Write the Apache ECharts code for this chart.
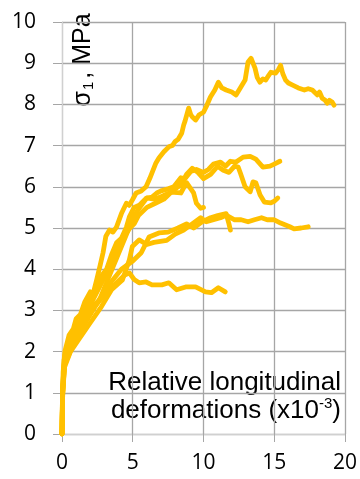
<!DOCTYPE html>
<html>
<head>
<meta charset="utf-8">
<style>
  html, body { margin: 0; padding: 0; background: #fff; }
  #chart { width: 360px; height: 479px; }
</style>
<script src="https://cdn.jsdelivr.net/npm/echarts@6/dist/echarts.min.js"></script>
</head>
<body>
<div id="chart"></div>
<script>
// Stress-strain curves: relative longitudinal deformation (x10^-3) vs. sigma_1 (MPa)
const xTicks = [0, 5, 10, 15, 20];
const yTicks = [0, 1, 2, 3, 4, 5, 6, 7, 8, 9, 10];

const specimenA = [[0,0],[0.03,0.8],[0.08,1.5],[0.2,2.0],[0.5,2.4],[0.8,2.55],[1.0,2.8],[1.3,2.9],[1.6,3.2],[2.0,3.45],[2.2,3.4],[2.45,3.74],[2.7,4.1],[2.9,4.4],[3.1,4.8],[3.36,4.95],[3.6,4.9],[3.85,5.02],[4.2,5.35],[4.55,5.6],[4.75,5.55],[4.97,5.68],[5.24,5.85],[5.6,5.9],[5.94,6.0],[6.2,6.2],[6.36,6.34],[6.64,6.58],[6.85,6.7],[7.2,6.85],[7.55,6.97],[7.8,7.0],[8.0,7.1],[8.2,7.15],[8.46,7.3],[8.6,7.5],[8.7,7.6],[8.95,7.91],[9.1,7.75],[9.2,7.7],[9.44,7.62],[9.7,7.75],[10.0,7.81],[10.2,7.95],[10.49,8.18],[10.8,8.35],[11.05,8.54],[11.3,8.4],[11.6,8.35],[12.0,8.3],[12.3,8.23],[12.6,8.4],[12.94,8.59],[13.15,9.03],[13.36,9.12],[13.5,9.0],[13.64,8.88],[13.8,8.65],[13.99,8.54],[14.2,8.62],[14.4,8.59],[14.6,8.7],[14.76,8.78],[15.1,8.76],[15.3,8.85],[15.45,8.95],[15.6,8.75],[15.8,8.59],[16.0,8.52],[16.3,8.47],[16.7,8.4],[17.13,8.35],[17.4,8.38],[17.69,8.35],[18.04,8.23],[18.2,8.3],[18.39,8.15],[18.6,8.1],[18.74,8.03],[18.9,8.1],[19.09,8.06],[19.23,7.98]];

const specimenB = [[0,0],[0.04,1.0],[0.15,1.8],[0.5,2.3],[1.0,2.6],[1.3,2.75],[1.6,3.0],[2.2,3.4],[2.7,3.8],[3.15,4.0],[3.5,4.35],[3.85,4.64],[4.2,4.75],[4.55,5.02],[4.76,5.27],[5.1,5.5],[5.45,5.55],[5.94,5.72],[6.36,5.75],[6.7,5.85],[7.0,5.9],[7.5,5.95],[7.9,6.0],[8.4,6.22],[8.7,6.2],[9.1,6.37],[9.5,6.42],[10.0,6.35],[10.35,6.42],[10.7,6.55],[11.2,6.6],[11.55,6.5],[11.9,6.62],[12.3,6.6],[12.8,6.72],[13.3,6.74],[13.7,6.67],[14.2,6.48],[14.7,6.5],[15.0,6.55],[15.4,6.62]];

const specimenC = [[0,0],[0.05,1.1],[0.2,1.85],[0.6,2.2],[1.2,2.6],[1.8,3.0],[2.4,3.4],[3.0,3.8],[3.3,3.95],[3.6,4.3],[4.2,4.7],[4.8,5.0],[5.1,5.1],[5.4,5.3],[6.0,5.5],[6.6,5.6],[7.2,5.7],[7.8,5.9],[8.4,6.05],[8.8,6.3],[9.2,6.45],[9.6,6.35],[10.0,6.2],[10.5,6.3],[11.0,6.5],[11.4,6.4],[11.8,6.35],[12.2,6.5],[12.45,6.48],[12.6,6.34],[12.94,6.0],[13.3,5.88],[13.5,6.12],[13.7,6.1],[14.0,5.8],[14.3,5.63],[14.76,5.61],[15.0,5.65],[15.25,5.73]];

const specimenD = [[0,0],[0.05,1.0],[0.2,1.7],[0.7,2.1],[1.3,2.5],[2.0,2.9],[2.7,3.3],[3.3,3.8],[3.9,4.3],[4.5,4.8],[5.1,5.3],[5.5,5.5],[6.0,5.73],[6.5,5.7],[7.0,5.76],[7.7,5.87],[8.4,5.85],[8.8,6.1],[9.3,5.85],[9.5,5.6],[9.8,5.48],[10.0,5.5]];

const specimenE = [[0,0],[0.04,0.9],[0.15,1.6],[0.6,2.0],[1.2,2.3],[2.0,2.7],[2.8,3.1],[3.5,3.5],[4.27,3.74],[4.76,4.23],[4.97,4.55],[5.45,4.71],[6.0,4.6],[6.5,4.65],[7.4,4.7],[8.0,4.85],[8.6,4.95],[9.2,5.1],[9.8,5.25],[10.2,5.15],[10.7,5.2],[11.2,5.25],[11.6,5.31],[12.2,5.2],[12.66,5.2],[13.15,5.15],[13.6,5.2],[14.1,5.25],[14.5,5.2],[15.0,5.2],[15.45,5.12],[16.1,5.03],[16.4,4.98],[16.9,5.0],[17.4,5.03]];

const specimenF = [[0,0],[0.05,1.0],[0.2,1.8],[0.7,2.2],[1.4,2.6],[2.1,3.0],[2.8,3.3],[3.5,3.7],[4.2,4.0],[5.0,4.2],[5.6,4.4],[6.15,4.78],[6.85,4.88],[7.5,4.9],[8.2,5.0],[8.8,5.1],[9.3,5.0],[9.9,5.15],[10.5,5.25],[11.0,5.3],[11.6,5.35],[11.8,5.1],[11.9,4.95]];

const specimenG = [[0,0],[0.04,1.1],[0.2,1.9],[0.6,2.3],[1.2,2.7],[1.8,3.0],[2.5,3.2],[3.35,3.5],[4.06,3.74],[4.4,3.85],[4.76,3.91],[5.1,3.75],[5.45,3.67],[5.94,3.69],[6.36,3.62],[7.06,3.62],[7.55,3.67],[8.1,3.5],[8.74,3.57],[9.44,3.57],[10.14,3.45],[10.56,3.43],[11.05,3.55],[11.54,3.45]];

const curves = [specimenA, specimenB, specimenC, specimenD, specimenE, specimenF, specimenG];

const lineColor = '#FFC000';
const gridColor = '#a6a6a6';
const tickFont = '"Open Sans", "Noto Sans", sans-serif';
const titleFont = '"Liberation Sans", Arial, sans-serif';

const chart = echarts.init(document.getElementById('chart'), null, { renderer: 'canvas' });

chart.setOption({
  animation: false,
  backgroundColor: '#ffffff',
  grid: { left: 62, right: 12, top: 22, bottom: 45, containLabel: false },
  xAxis: {
    type: 'value',
    min: xTicks[0],
    max: xTicks[xTicks.length - 1],
    interval: xTicks[1] - xTicks[0],
    axisLine: { show: true, lineStyle: { color: '#d0d0d0', width: 1 } },
    axisTick: { show: true, length: 8, lineStyle: { color: gridColor } },
    splitLine: { show: true, lineStyle: { color: gridColor, width: 1.3 } },
    axisLabel: { color: '#000', fontSize: 21, fontFamily: tickFont, margin: 19 }
  },
  yAxis: {
    type: 'value',
    min: yTicks[0],
    max: yTicks[yTicks.length - 1],
    interval: yTicks[1] - yTicks[0],
    axisLine: { show: true, lineStyle: { color: '#d0d0d0', width: 1 } },
    axisTick: { show: true, length: 9, lineStyle: { color: gridColor } },
    splitLine: { show: true, lineStyle: { color: gridColor, width: 1.3 } },
    axisLabel: { color: '#000', fontSize: 21, fontFamily: tickFont, margin: 26 }
  },
  series: curves.map(function (pts) {
    return {
      type: 'line',
      data: pts,
      showSymbol: false,
      smooth: false,
      lineStyle: { color: lineColor, width: 4.8, join: 'round', cap: 'round' },
      itemStyle: { color: lineColor },
      silent: true
    };
  }),
  graphic: [
    {
      type: 'text',
      x: 81,
      y: 60,
      rotation: Math.PI / 2,
      style: {
        text: '{m|σ}{s|1}{m|, MPa}',
        textAlign: 'center',
        textVerticalAlign: 'middle',
        fill: '#000',
        rich: {
          m: { fontSize: 25, fontFamily: titleFont, fill: '#000', verticalAlign: 'bottom', lineHeight: 30 },
          s: { fontSize: 15, fontFamily: titleFont, fill: '#000', verticalAlign: 'bottom', lineHeight: 12, padding: [0, 3, 0, 1] }
        }
      }
    },
    {
      type: 'text',
      x: 341,
      y: 368,
      style: {
        text: '{t|Relative longitudinal}\n{t|deformations (x10}{p|-3}{t|)}',
        textAlign: 'right',
        textVerticalAlign: 'top',
        fill: '#000',
        rich: {
          t: { fontSize: 26, fontFamily: titleFont, fill: '#000', lineHeight: 28, verticalAlign: 'bottom' },
          p: { fontSize: 15, fontFamily: titleFont, fill: '#000', lineHeight: 12, verticalAlign: 'top' }
        }
      }
    }
  ]
});
</script>
</body>
</html>
